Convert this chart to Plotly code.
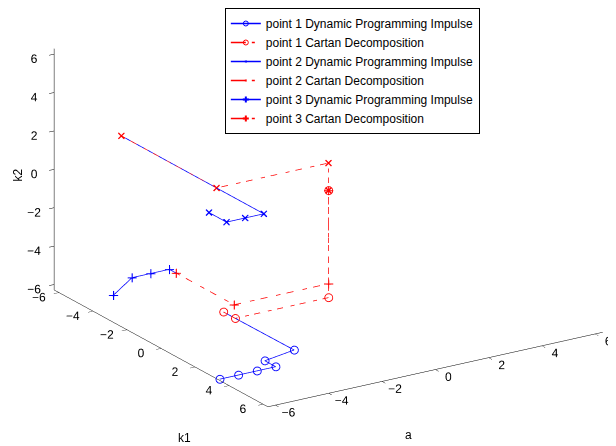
import numpy as np
import plotly.graph_objects as go

LIM = 2 * np.pi
TICKS = [-6, -4, -2, 0, 2, 4, 6]

# ---- point 1 ----
p1_dp_a = [-3.5, -3.05, -4.15, -4.15, -4.85, -5.55, -6.25]
p1_dp_k1 = [-0.69, 2.76, 2.76, 3.4, 3.4, 3.4, 3.4]
p1_dp_k2 = [-5.58, -6.03, -6.25, -6.25, -6.25, -6.25, -6.25]
p1_cd_a = [-3.5, -3.5, 0.0, 0.0]
p1_cd_k1 = [-0.69, 0.0, 0.0, 0.0]
p1_cd_k2 = [-5.58, -5.58, -5.58, 0.0]

# ---- point 2 ----
p2_dp_a = [-4.2, -4.2, -4.9, -5.6, -5.6]
p2_dp_k1 = [-5.6, 2.78, 2.78, 2.78, 1.75]
p2_dp_k2 = [1.43, 1.43, 1.43, 1.43, 1.43]
p2_cd_a = [-4.2, -4.2, 0.0, 0.0]
p2_cd_k1 = [-5.6, 0.0, 0.0, 0.0]
p2_cd_k2 = [1.43, 1.43, 1.43, 0.0]

# ---- point 3 ----
p3_dp_a = [-3.54, -3.54, -4.24, -4.94, -5.64]
p3_dp_k1 = [-3.41, -3.81, -3.81, -3.81, -3.81]
p3_dp_k2 = [-4.86, -4.86, -4.86, -4.86, -5.56]
p3_cd_a = [-3.54, -3.54, 0.0, 0.0]
p3_cd_k1 = [-3.41, 0.0, 0.0, 0.0]
p3_cd_k2 = [-4.86, -4.86, -4.86, 0.0]

series = [
    ("point 1 Dynamic Programming Impulse", p1_dp_a, p1_dp_k1, p1_dp_k2, "blue", "solid", "circle-open", 5),
    ("point 1 Cartan Decomposition", p1_cd_a, p1_cd_k1, p1_cd_k2, "red", "longdashdot", "circle-open", 5),
    ("point 2 Dynamic Programming Impulse", p2_dp_a, p2_dp_k1, p2_dp_k2, "blue", "solid", "x", 1.5),
    ("point 2 Cartan Decomposition", p2_cd_a, p2_cd_k1, p2_cd_k2, "red", "longdashdot", "x", 1.5),
    ("point 3 Dynamic Programming Impulse", p3_dp_a, p3_dp_k1, p3_dp_k2, "blue", "solid", "cross", 5),
    ("point 3 Cartan Decomposition", p3_cd_a, p3_cd_k1, p3_cd_k2, "red", "longdashdot", "cross", 5),
]

fig = go.Figure()
for name, a, k1, k2, col, dash, sym, msize in series:
    fig.add_trace(go.Scatter3d(
        x=a, y=k1, z=k2, name=name, mode="lines+markers",
        line=dict(color=col, width=1.5, dash=dash),
        marker=dict(symbol=sym, size=msize, color=col),
    ))

axis_common = dict(
    showgrid=False, showbackground=False, zeroline=False, showspikes=False,
    showline=True, linecolor="black", linewidth=1,
    ticks="outside", ticklen=6, tickcolor="black", tickangle=0,
    tickvals=TICKS, tickfont=dict(size=12, color="black"),
    title=dict(text=""),
)

S = 1.835
d = np.array([-0.504, -0.790, 0.349])
c = np.array([-0.0894, -0.0329, -0.2036])
eye = 2 * d + c
fig.update_layout(
    width=616, height=446,
    margin=dict(l=0, r=0, t=0, b=0),
    paper_bgcolor="white",
    font=dict(family="Liberation Sans, Arial, sans-serif", size=12, color="black"),
    scene=dict(
        domain=dict(x=[0, 1.0], y=[0, 1.0]),
        xaxis=dict(range=[-LIM, LIM], **axis_common),
        yaxis=dict(range=[LIM, -LIM], **axis_common),
        zaxis=dict(range=[-LIM, LIM], **axis_common),
        aspectmode="manual", aspectratio=dict(x=S, y=S, z=0.648 * S),
        camera=dict(eye=dict(x=eye[0], y=eye[1], z=eye[2]),
                    up=dict(x=0, y=0, z=1), center=dict(x=c[0], y=c[1], z=c[2]),
                    projection=dict(type="orthographic")),
    ),
    legend=dict(x=0.352, y=1.03, xanchor="left", yanchor="top",
                bgcolor="white", bordercolor="black", borderwidth=1,
                font=dict(size=12), tracegroupgap=0),
    showlegend=True,
    annotations=[
        dict(text="a", x=400 / 616, y=1 - 426 / 446, xref="paper", yref="paper",
             xanchor="center", yanchor="middle", showarrow=False, font=dict(size=12)),
        dict(text="k1", x=176 / 616, y=1 - 430 / 446, xref="paper", yref="paper",
             xanchor="center", yanchor="middle", showarrow=False, font=dict(size=12)),
        dict(text="k2", x=10 / 616, y=1 - 158 / 446, xref="paper", yref="paper",
             xanchor="center", yanchor="middle", showarrow=False, textangle=-90,
             font=dict(size=12)),
    ],
)

fig.write_html("out.html")
